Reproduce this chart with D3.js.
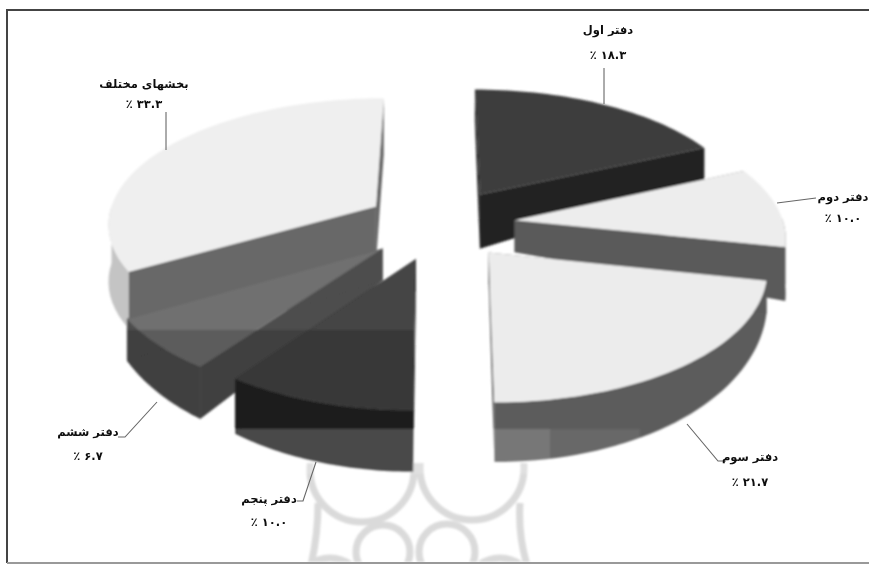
<!DOCTYPE html>
<html><head><meta charset="utf-8">
<script src="https://cdn.jsdelivr.net/npm/d3@7"></script>
<style>html,body{margin:0;padding:0;background:#fff;overflow:hidden}svg{display:block}
text{font-family:"DejaVu Sans";font-weight:bold;fill:#111;direction:rtl}</style>
</head><body><script>
// ---- data ----
const categories=["دفتر اول","دفتر دوم","دفتر سوم","دفتر پنجم","دفتر ششم","بخشهای مختلف"];
const shares=[18.3,10.0,21.7,10.0,6.7,33.3];
// ---- styles ----
const topColors=["#3d3d3d","#ededed","#ececec","#444444","#707070","#efefef"];
const wallColors=["#242424","#5a5a5a","#5a5a5a","#232323","#4d4d4d","#686868"];
const rimColors=["#242424","#5a5a5a","#5c5c5c","#232323","#4d4d4d","#c4c4c4"];
const drawOrder=[5,0,1,2,4,3];
// label layout: text centre, value line, leader polyline
const labelX=[608,843,750,269,88,144], nameY=[34,201,461,503,436,88], valueY=[59,222,486,526,460,108];
const leaders=[[[604,68],[604,104]],[[777,203],[816,198]],[[687,424],[718,461],[726,461]],
  [[316,462],[303,501],[297,501]],[[157,402],[125,437],[118,437]],[[166,112],[166,150]]];
// watermark shapes
const ringsX=[362,472,383,447,330,500], ringsY=[470,468,552,552,592,592], ringsR=[52,52,27,28,34,34];
// extra extrusion per slice: toward the apex, along the walls, along the rim
const apexExtra=[22,0,0,0,0,25], wallExtra=[0,22,0,0,0,25], rimExtra=[0,22,0,0,0,25];

const W=869,H=564;
const svg=d3.select("body").append("svg").attr("width",W).attr("height",H);
const defs=svg.append("defs");
const soft=(id,sd)=>defs.append("filter").attr("id",id).attr("x","-5%").attr("y","-5%").attr("width","110%").attr("height","110%")
  .append("feGaussianBlur").attr("stdDeviation",sd);
soft("soft",0.9);
soft("softText",0.3);
defs.append("clipPath").attr("id","page").append("rect").attr("x",8).attr("y",463).attr("width",W).attr("height",99);
defs.append("clipPath").attr("id","darkBand").append("rect").attr("x",127).attr("y",330).attr("width",287).attr("height",99);

const root=svg.append("g").attr("filter","url(#soft)");
const mark=root.append("g").attr("clip-path","url(#page)").attr("fill","none").attr("stroke","#dadada").attr("stroke-width",7);
mark.selectAll("circle").data(ringsX).join("circle").attr("cx",d=>d).attr("cy",(d,i)=>ringsY[i]).attr("r",(d,i)=>ringsR[i]);
mark.append("path").attr("d","M318 503Q318 535 311 565M520 503Q518 535 527 565");

// ---- exploded, slightly perspective pie projected from d3.pie angles ----
const cx=440,cy=224,R=269,tilt=0.475,persp=0.12,explode=0.28;
const P=(X,Y)=>{const s=1-persp*Y;return [cx+R*X*s,cy-R*tilt*Y*s];};
const depth=Y=>Math.max(32,32+(-Y-0.4)*34);
const pie=d3.pie().sort(null).value(d=>d)(shares);
const line=d3.line();
const pieG=root.append("g").attr("id","pieMarks");
drawOrder.forEach(i=>{
  const a=pie[i],mid=(a.startAngle+a.endAngle)/2;
  const ox=explode*Math.sin(mid),oy=explode*Math.cos(mid);
  const rim=d3.range(0,41).map(k=>a.startAngle+(a.endAngle-a.startAngle)*k/40)
    .map(t=>({X:ox+Math.sin(t),Y:oy+Math.cos(t)}));
  const top=q=>P(q.X,q.Y);
  const low=(q,e=0)=>{const p=P(q.X,q.Y);return [p[0],p[1]+depth(q.Y)+e];};
  const apex={X:ox,Y:oy},first=rim[0],last=rim[rim.length-1];
  const g=pieG.append("g");
  const front=rim.filter(q=>q.Y<oy+0.02);
  if(front.length>1){
    g.append("path").attr("fill",rimColors[i])
     .attr("d",line(front.map(top).concat(front.slice().reverse().map(q=>low(q,rimExtra[i]))))+"Z");
  }
  [first,last].forEach(q=>{
    g.append("path").attr("fill",wallColors[i])
     .attr("d",line([top(apex),top(q),low(q,wallExtra[i]),low(apex,apexExtra[i])])+"Z");
  });
  g.append("path").attr("fill",topColors[i]).attr("d",line([top(apex)].concat(rim.map(top)))+"Z");
});
// scan shading bands of the source picture
root.append("g").attr("clip-path","url(#darkBand)").append("use").attr("href","#pieMarks").style("filter","brightness(0.82)");
const bandX=[232,550],bandW=[318,90],bandO=[0.17,0.08];
root.append("g").selectAll("rect").data(bandX).join("rect").attr("x",d=>d).attr("y",429).attr("width",(d,i)=>bandW[i]).attr("height",45).attr("fill","#fff").attr("opacity",(d,i)=>bandO[i]);

// frame, leaders and labels
const notes=svg.append("g");
const frame=notes.append("g").attr("fill","none");
frame.append("path").attr("d",line([[7,563],[7,10],[869,10]])).attr("stroke","#444").attr("stroke-width",2);
frame.append("path").attr("d",line([[7,563],[869,563]])).attr("stroke","#999").attr("stroke-width",2);
const ink=notes.append("g").attr("filter","url(#softText)");
ink.append("g").selectAll("path").data(leaders).join("path").attr("fill","none").attr("stroke","#666").attr("stroke-width",1.1).attr("d",d=>line(d));
const fa=v=>v.toFixed(1).replace(/\d/g,c=>"۰۱۲۳۴۵۶۷۸۹"[+c]);
const t=ink.append("g").attr("text-anchor","middle");
t.selectAll("text.n").data(categories).join("text").attr("class","n").attr("x",(d,i)=>labelX[i]).attr("y",(d,i)=>nameY[i]).attr("font-size",11.5).text(d=>d);
t.selectAll("text.v").data(shares).join("text").attr("class","v").attr("x",(d,i)=>labelX[i]).attr("y",(d,i)=>valueY[i]).attr("font-size",11.5).text(d=>fa(d)+" ٪");
</script></body></html>
